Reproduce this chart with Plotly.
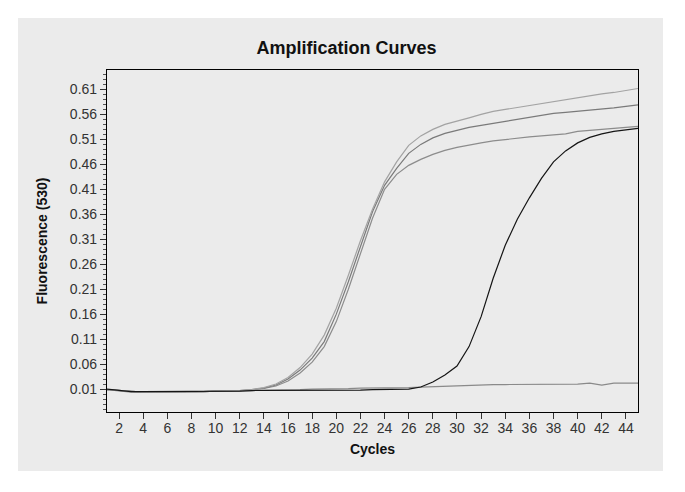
import plotly.graph_objects as go

cycles = list(range(1, 46))

curve_a = [0.009, 0.007, 0.005, 0.004, 0.004, 0.004, 0.004, 0.005, 0.005, 0.006,
           0.006, 0.007, 0.009, 0.013, 0.020, 0.033, 0.053, 0.080, 0.118, 0.172,
           0.238, 0.307, 0.370, 0.425, 0.465, 0.498, 0.517, 0.530, 0.540, 0.546,
           0.553, 0.560, 0.566, 0.570, 0.574, 0.578, 0.582, 0.586, 0.590, 0.594,
           0.598, 0.601, 0.604, 0.608, 0.612]
curve_b = [0.009, 0.007, 0.005, 0.004, 0.004, 0.004, 0.004, 0.005, 0.005, 0.006,
           0.006, 0.007, 0.009, 0.012, 0.018, 0.030, 0.048, 0.072, 0.105, 0.160,
           0.225, 0.295, 0.365, 0.418, 0.452, 0.482, 0.500, 0.513, 0.522, 0.528,
           0.534, 0.538, 0.542, 0.546, 0.550, 0.554, 0.559, 0.562, 0.564, 0.566,
           0.568, 0.571, 0.573, 0.576, 0.579]
curve_c = [0.009, 0.007, 0.005, 0.004, 0.004, 0.004, 0.004, 0.005, 0.005, 0.006,
           0.006, 0.007, 0.008, 0.011, 0.016, 0.026, 0.042, 0.064, 0.095, 0.145,
           0.210, 0.283, 0.352, 0.410, 0.440, 0.458, 0.470, 0.480, 0.488, 0.494,
           0.499, 0.503, 0.507, 0.510, 0.513, 0.515, 0.517, 0.519, 0.521, 0.526,
           0.528, 0.530, 0.532, 0.534, 0.536]
curve_late = [0.010, 0.008, 0.005, 0.005, 0.005, 0.005, 0.005, 0.005, 0.005, 0.006,
              0.006, 0.006, 0.007, 0.007, 0.007, 0.007, 0.008, 0.008, 0.008, 0.008,
              0.008, 0.008, 0.009, 0.009, 0.009, 0.010, 0.014, 0.024, 0.038, 0.056,
              0.095, 0.155, 0.232, 0.298, 0.350, 0.393, 0.432, 0.465, 0.487, 0.503,
              0.514, 0.521, 0.526, 0.529, 0.532]
curve_flat = [0.009, 0.007, 0.004, 0.004, 0.004, 0.004, 0.004, 0.004, 0.005, 0.006,
              0.006, 0.007, 0.007, 0.008, 0.008, 0.009, 0.009, 0.010, 0.010, 0.011,
              0.011, 0.012, 0.012, 0.012, 0.013, 0.013, 0.014, 0.015, 0.016, 0.016,
              0.017, 0.018, 0.019, 0.019, 0.019, 0.019, 0.019, 0.019, 0.019, 0.020,
              0.022, 0.018, 0.022, 0.022, 0.022]

x_ticks = list(range(2, 45, 2))
y_ticks = [round(0.01 + 0.05 * i, 2) for i in range(13)]
y_tick_labels = [f"{v:.2f}" for v in y_ticks]

series = [
    (curve_flat, "#8a8a8a"),
    (curve_c, "#8c8c8c"),
    (curve_b, "#7a7a7a"),
    (curve_a, "#a3a3a3"),
    (curve_late, "#151515"),
]

fig = go.Figure()
for vals, col in series:
    fig.add_trace(go.Scatter(x=cycles, y=vals, mode="lines",
                             line=dict(color=col, width=1.2),
                             showlegend=False, hoverinfo="skip"))

fig.add_shape(type="rect", xref="paper", yref="paper",
              x0=-0.1676, x1=1.047, y0=-0.1725, y1=1.152,
              fillcolor="#ebebeb", line=dict(width=0), layer="below")

FONT = "Liberation Sans, Arial, sans-serif"
tickfont = dict(family=FONT, size=14, color="#333333")

fig.update_layout(
    width=677, height=484,
    margin=dict(l=99, r=47, t=62, b=80),
    paper_bgcolor="white",
    plot_bgcolor="white",
    title=dict(text="<b>Amplification Curves</b>", x=0.5, xanchor="center",
               y=0.917, yanchor="middle",
               font=dict(family=FONT, size=18, color="#111111")),
    xaxis=dict(range=[1, 45], tickmode="array", tickvals=x_ticks,
               ticks="outside", ticklen=6, tickcolor="#333", showgrid=False, zeroline=False,
               showline=True, linecolor="black", linewidth=1.2, mirror=True,
               tickfont=tickfont, ticklabelstandoff=-3, automargin=False,
               title=dict(text="<b>Cycles</b>", standoff=9,
                          font=dict(family=FONT, size=14, color="#111111"))),
    yaxis=dict(range=[-0.036, 0.649], tickmode="array", tickvals=y_ticks, ticktext=y_tick_labels,
               ticks="outside", ticklen=6, tickcolor="#333", showgrid=False, zeroline=False,
               showline=True, linecolor="black", linewidth=1.2, mirror=True,
               tickfont=tickfont, automargin=False,
               minor=dict(dtick=0.01, tick0=0.01, ticks="outside", ticklen=3, tickcolor="#555", showgrid=False),
               title=dict(text="<b>Fluorescence (530)</b>", standoff=18,
                          font=dict(family=FONT, size=14, color="#111111"))),
)

fig.write_html("out.html")
